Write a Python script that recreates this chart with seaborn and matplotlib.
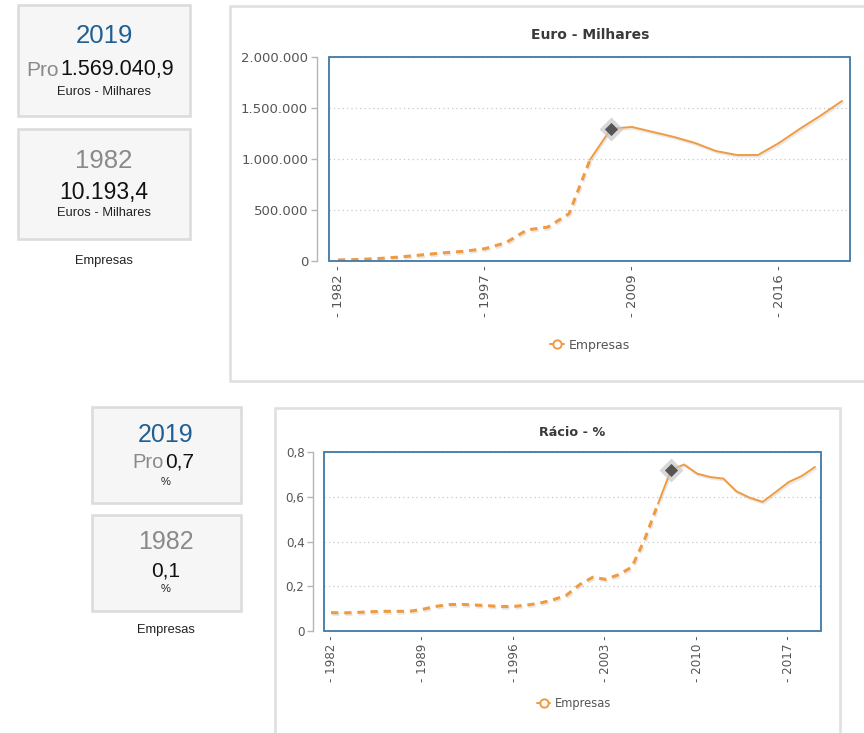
import pandas as pd
import matplotlib.pyplot as plt
import matplotlib.patheffects as pe
from matplotlib.lines import Line2D
from matplotlib.patches import Rectangle
import seaborn as sns

W, H = 864, 733

euro_years = [1982, 1986, 1988, 1990, 1992, 1994, 1995, 1997, 1999, 2001, 2003, 2005,
              2007, 2008, 2009, 2010, 2011, 2012, 2013, 2014, 2015, 2016, 2017, 2018, 2019]
euro_values = [10193.4, 15000, 25000, 40000, 60000, 80000, 95000, 121000, 180000, 305000,
               333000, 464000, 993000, 1297000, 1314000, 1265000, 1216000, 1157000, 1078000,
               1039000, 1039000, 1157000, 1297000, 1428000, 1569040.9]
euro_ticks = [1982, 1997, 2009, 2016]
euro_yticks = [0, 500000, 1000000, 1500000, 2000000]

ratio_years = list(range(1982, 2020))
ratio_values = [0.082, 0.081, 0.083, 0.086, 0.088, 0.088, 0.088, 0.097, 0.11, 0.118,
                0.119, 0.116, 0.113, 0.109, 0.11, 0.116, 0.125, 0.14, 0.16, 0.207,
                0.24, 0.231, 0.252, 0.286, 0.413, 0.569, 0.721, 0.744, 0.703, 0.688,
                0.681, 0.624, 0.596, 0.577, 0.621, 0.666, 0.693, 0.733]
ratio_ticks = [1982, 1989, 1996, 2003, 2010, 2017]
ratio_yticks = [0, 0.2, 0.4, 0.6, 0.8]

ORANGE = "#EE9B42"
FRAME = "#3f78a6"
BLUE = "#1f5f93"

sns.set_style("white")
plt.rcParams["font.family"] = ["DejaVu Sans"]


def px_rect(l, t, r, b):
    return [l / W, 1 - b / H, (r - l) / W, (b - t) / H]


def fmt_euro(v):
    return f"{int(v):,}".replace(",", ".")


def fmt_ratio(v):
    return "0" if v == 0 else f"{v:.1f}".replace(".", ",")


def draw_chart(ax, years, values, dashed_until, highlight, xticks, yticks, yfmt,
               fs, spine_off):
    df = pd.DataFrame({"pos": range(len(years)), "year": years, "value": values})
    old = df[df["pos"] <= dashed_until]
    new = df[df["pos"] >= dashed_until]
    shadow = [pe.SimpleLineShadow(offset=(0.8, -1.3), shadow_color="#999999", alpha=0.22),
              pe.Normal()]
    sns.lineplot(data=old, x="pos", y="value", ax=ax, color=ORANGE, lw=2.2,
                 linestyle=(0, (2.4, 1.9)), errorbar=None, path_effects=shadow)
    sns.lineplot(data=new, x="pos", y="value", ax=ax, color=ORANGE, lw=1.4,
                 errorbar=None, path_effects=shadow)

    hl = df[df["year"] == highlight]
    ax.scatter(hl["pos"], hl["value"], marker="D", s=150, color="#c8c8c8", alpha=0.7,
               zorder=6, lw=0)
    ax.scatter(hl["pos"], hl["value"], marker="D", s=45, color="#555555", zorder=7, lw=0)

    pos = [df.loc[df["year"] == y, "pos"].iloc[0] for y in xticks]
    ax.set_xticks(pos)
    ax.set_xticklabels([f"- {y} -" for y in xticks], rotation=90, va="top")
    ax.set_yticks(yticks)
    ax.set_yticklabels([yfmt(v) for v in yticks])
    ax.set_ylim(yticks[0], yticks[-1])
    ax.set_xlabel("")
    ax.set_ylabel("")

    for s in ["top", "right", "bottom"]:
        ax.spines[s].set_visible(False)
    ax.spines["left"].set_position(("outward", spine_off))
    ax.spines["left"].set_color("#b5b5b5")
    ax.spines["left"].set_linewidth(1)
    ax.tick_params(axis="y", length=4, width=1, color="#b5b5b5", labelcolor="#555555",
                   labelsize=fs, pad=2, left=True)
    ax.tick_params(axis="x", length=0, labelcolor="#555555", labelsize=fs, pad=3)
    ax.yaxis.grid(True, linestyle=(0, (1, 2.5)), color="#c8c8c8", lw=0.9)
    ax.xaxis.grid(False)
    ax.set_axisbelow(True)
    ax.set_facecolor("none")
    ax.add_patch(Rectangle((0, 0), 1, 1, transform=ax.transAxes, fill=False, ec=FRAME,
                           lw=1.3, clip_on=False, zorder=8))


def legend(ax, x, y, fs):
    handle = Line2D([0], [0], color=ORANGE, lw=1.4, marker="o", markersize=6,
                    markerfacecolor="white", markeredgecolor=ORANGE, markeredgewidth=1.4)
    leg = ax.legend([handle], ["Empresas"], loc="center", bbox_to_anchor=(x / W, 1 - y / H),
                    bbox_transform=ax.figure.transFigure, frameon=False, handlelength=1.1,
                    handletextpad=0.4, fontsize=fs)
    for t in leg.get_texts():
        t.set_color("#555555")


fig = plt.figure(figsize=(W / 100, H / 100), dpi=100)
bg = fig.add_axes([0, 0, 1, 1], zorder=0)
bg.set_xlim(0, W)
bg.set_ylim(H, 0)
bg.axis("off")

box_kw = dict(fc="#f6f6f6", ec="#dcdcdc", lw=1.9)
bg.add_patch(Rectangle((18, 5), 172, 111, **box_kw))
bg.add_patch(Rectangle((18, 129), 172, 110, **box_kw))
bg.add_patch(Rectangle((92, 407), 149, 96, **box_kw))
bg.add_patch(Rectangle((92, 515), 149, 96, **box_kw))
bg.add_patch(Rectangle((230, 6), 700, 375, fc="white", ec="#e0e0e0", lw=1.9))
bg.add_patch(Rectangle((275, 408), 565, 400, fc="white", ec="#e0e0e0", lw=1.9))

pf = ["Liberation Sans", "DejaVu Sans"]
# painel de cima
bg.text(104, 36, "2019", ha="center", va="center", fontsize=18.5, color=BLUE, family=pf)
bg.text(59, 70, "Pro", ha="right", va="center", fontsize=15, color="#8a8a8a", family=pf)
bg.text(60, 70, "1.569.040,9", ha="left", va="center", fontsize=15.5, color="#111111", family=pf)
bg.text(104, 92, "Euros - Milhares", ha="center", va="center", fontsize=9.3, color="#222222", family=pf)
bg.text(104, 161, "1982", ha="center", va="center", fontsize=18.5, color="#8a8a8a", family=pf)
bg.text(104, 193, "10.193,4", ha="center", va="center", fontsize=16.5, color="#111111", family=pf)
bg.text(104, 213, "Euros - Milhares", ha="center", va="center", fontsize=9.3, color="#222222", family=pf)
bg.text(104, 261, "Empresas", ha="center", va="center", fontsize=9.3, color="#222222", family=pf)
# painel de baixo
bg.text(166, 435, "2019", ha="center", va="center", fontsize=18, color=BLUE, family=pf)
bg.text(164, 462, "Pro", ha="right", va="center", fontsize=14.5, color="#8a8a8a", family=pf)
bg.text(165, 462, "0,7", ha="left", va="center", fontsize=15, color="#111111", family=pf)
bg.text(166, 482, "%", ha="center", va="center", fontsize=8, color="#222222", family=pf)
bg.text(166, 542, "1982", ha="center", va="center", fontsize=18, color="#8a8a8a", family=pf)
bg.text(166, 571, "0,1", ha="center", va="center", fontsize=15, color="#111111", family=pf)
bg.text(166, 589, "%", ha="center", va="center", fontsize=8, color="#222222", family=pf)
bg.text(166, 630, "Empresas", ha="center", va="center", fontsize=9.3, color="#222222", family=pf)

bg.text(590, 35, "Euro - Milhares", ha="center", va="center", fontsize=10,
        fontweight="bold", color="#3a3a3a")
bg.text(572, 433, "Rácio - %", ha="center", va="center", fontsize=9.2,
        fontweight="bold", color="#3a3a3a")

ax1 = fig.add_axes(px_rect(329, 57, 850, 261), zorder=1)
draw_chart(ax1, euro_years, euro_values, 12, 2008, euro_ticks, euro_yticks, fmt_euro,
           9.5, 9)
ax1.set_xlim(-0.43, 24.38)
legend(ax1, 590, 345, 9)

ax2 = fig.add_axes(px_rect(324, 452, 821, 631), zorder=1)
draw_chart(ax2, ratio_years, ratio_values, 25, 2008, ratio_ticks, ratio_yticks, fmt_ratio,
           8.6, 8)
ax2.set_xlim(-0.54, 37.46)
legend(ax2, 574, 704, 8.3)

fig.savefig("out.png", dpi=100)
